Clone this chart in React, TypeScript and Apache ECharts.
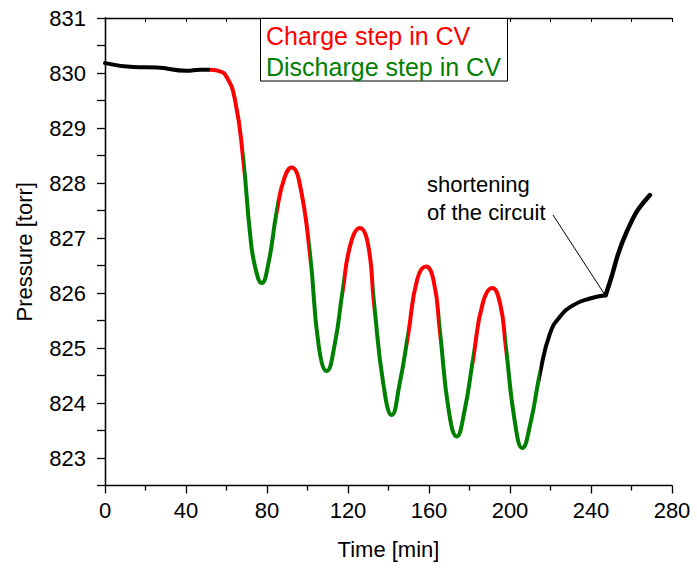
import React, { useEffect, useRef } from "react";
import * as echarts from "echarts";

const FONT = "'Liberation Sans', Arial, sans-serif";

// time [min]
const times = [
  0, 14, 25.5, 40.3, 46.9, 51.9, 56.0, 60.0, 64.2, 68.3, 71.6, 74.1, 77.4, 80.7, 84.8, 88.5, 92.2, 95.8, 101.2,
  105.5, 109.5, 113.5, 117.4, 121.5, 125.9, 129.8, 132.8, 137.4, 141.6, 145.5, 149.8, 154.2, 158.5, 162.3, 165.4,
  169.8, 173.7, 177.5, 181.9, 186.6, 191.3, 195.1, 197.9, 202.3, 206.1, 210.2, 214.8, 219.8, 224.7, 231.3, 239.5,
  247.2,
];
// pressure [torr]
const pressures = [
  830.18, 830.11, 830.1, 830.04, 830.06, 830.06, 830.04, 829.93, 829.51, 828.42, 827.09, 826.48, 826.18, 826.54,
  827.48, 828.08, 828.28, 828.05, 826.72, 825.05, 824.58, 825.08, 826.05, 826.92, 827.18, 826.9, 825.84, 824.36,
  823.78, 824.35, 825.27, 826.25, 826.48, 826.22, 825.3, 823.85, 823.39, 823.85, 824.83, 825.82, 826.09, 825.81,
  825.04, 823.68, 823.18, 823.65, 824.54, 825.27, 825.57, 825.78, 825.9, 825.96,
];
// after shortening of the circuit
const tailTimes = [247.2, 250.2, 253.5, 257.6, 262.6, 269.1];
const tailPressures = [825.96, 826.3, 826.72, 827.11, 827.48, 827.78];

// step boundaries [min] and step kinds
const stepStarts = [51.9, 68.3, 84.8, 101.2, 117.4, 132.8, 149.8, 165.4, 181.9, 197.9];
const stepEnd = 214.8;
const stepKinds = ["charge", "discharge", "charge", "discharge", "charge", "discharge", "charge", "discharge", "charge", "discharge"];

const xTicks = [0, 40, 80, 120, 160, 200, 240, 280];
const yTicks = [823, 824, 825, 826, 827, 828, 829, 830, 831];

const RED = "#ff0000";
const GREEN = "#008000";

export default function App() {
  const ref = useRef<HTMLDivElement>(null);
  useEffect(() => {
    if (!ref.current) return;
    const chart = echarts.init(ref.current, null, { renderer: "svg" });
    const main = times.map((t, i) => [t, pressures[i]]);
    const tail = tailTimes.map((t, i) => [t, tailPressures[i]]);
    const pieces = stepStarts.map((s, i) => ({
      gte: s,
      lt: i < stepStarts.length - 1 ? stepStarts[i + 1] : stepEnd,
      color: stepKinds[i] === "charge" ? RED : GREEN,
    }));
    const axisLine = { show: true, lineStyle: { color: "#000", width: 1.3 } };
    chart.setOption({
      animation: false,
      backgroundColor: "#fff",
      grid: { left: 105, top: 18, width: 567, height: 467.5, containLabel: false },
      visualMap: {
        show: false,
        type: "piecewise",
        dimension: 0,
        seriesIndex: 0,
        pieces,
        outOfRange: { color: "#000" },
      },
      xAxis: [
        {
          type: "value",
          min: xTicks[0],
          max: xTicks[xTicks.length - 1],
          interval: 40,
          name: "Time [min]",
          nameLocation: "middle",
          nameGap: 53,
          nameTextStyle: { fontFamily: FONT, fontSize: 22, color: "#000" },
          axisLine,
          axisTick: { show: true, length: 8, lineStyle: { color: "#000", width: 1.3 } },
          minorTick: { show: true, splitNumber: 2, length: 5, lineStyle: { color: "#000", width: 1.3 } },
          axisLabel: { fontFamily: FONT, fontSize: 22, color: "#000", margin: 14 },
          splitLine: { show: false },
        },
        {
          type: "value",
          position: "top",
          min: xTicks[0],
          max: xTicks[xTicks.length - 1],
          interval: 40,
          axisLine,
          axisTick: { show: true, inside: true, length: 4, lineStyle: { color: "#000", width: 1 } },
          minorTick: { show: true, splitNumber: 2, length: 4, lineStyle: { color: "#000", width: 1 } },
          axisLabel: { show: false },
          splitLine: { show: false },
        },
      ],
      yAxis: [
        {
          type: "value",
          min: 822.5,
          max: yTicks[yTicks.length - 1],
          interval: 0.5,
          name: "Pressure [torr]",
          nameLocation: "middle",
          nameGap: 70,
          nameTextStyle: { fontFamily: FONT, fontSize: 22, color: "#000" },
          axisLine,
          axisTick: { show: true, length: 8, lineStyle: { color: "#000", width: 1.3 } },
          axisLabel: {
            fontFamily: FONT,
            fontSize: 22,
            color: "#000",
            margin: 19,
            formatter: (v: number) => (yTicks.indexOf(v) >= 0 ? String(v) : ""),
          },
          splitLine: { show: false },
        },
        {
          type: "value",
          position: "right",
          min: 822.5,
          max: yTicks[yTicks.length - 1],
          interval: 0.5,
          axisLine,
          axisTick: { show: true, inside: true, length: 4, lineStyle: { color: "#000", width: 1 } },
          axisLabel: { show: false },
          splitLine: { show: false },
        },
      ],
      series: [
        {
          type: "line",
          data: main,
          smooth: 0.5,
          showSymbol: false,
          lineStyle: { width: 4, cap: "round", join: "round" },
          z: 3,
        },
        {
          type: "line",
          data: tail,
          smooth: 0.3,
          showSymbol: false,
          color: "#000",
          lineStyle: { width: 4.5, color: "#000", cap: "round", join: "round" },
          z: 3,
        },
      ],
      graphic: [
        {
          type: "rect",
          shape: { x: 260.5, y: 18.5, width: 247, height: 62.5 },
          style: { fill: "#fff", stroke: "#000", lineWidth: 1 },
          z: 10,
        },
        {
          type: "text",
          x: 266,
          y: 36,
          style: { text: "Charge step in CV", fill: RED, font: `25px ${FONT}`, verticalAlign: "middle" },
          z: 11,
        },
        {
          type: "text",
          x: 266,
          y: 67,
          style: { text: "Discharge step in CV", fill: GREEN, font: `25px ${FONT}`, verticalAlign: "middle" },
          z: 11,
        },
        {
          type: "text",
          x: 427,
          y: 184,
          style: { text: "shortening", fill: "#000", font: `22px ${FONT}`, verticalAlign: "middle" },
          z: 11,
        },
        {
          type: "text",
          x: 427,
          y: 212,
          style: { text: "of the circuit", fill: "#000", font: `22px ${FONT}`, verticalAlign: "middle" },
          z: 11,
        },
        {
          type: "line",
          shape: { x1: 553, y1: 215, x2: 605, y2: 295 },
          style: { stroke: "#000", lineWidth: 1 },
          z: 11,
        },
      ],
    });
    return () => chart.dispose();
  }, []);
  return <div ref={ref} style={{ position: "fixed", left: 0, top: 0, width: 697, height: 573 }} />;
}
